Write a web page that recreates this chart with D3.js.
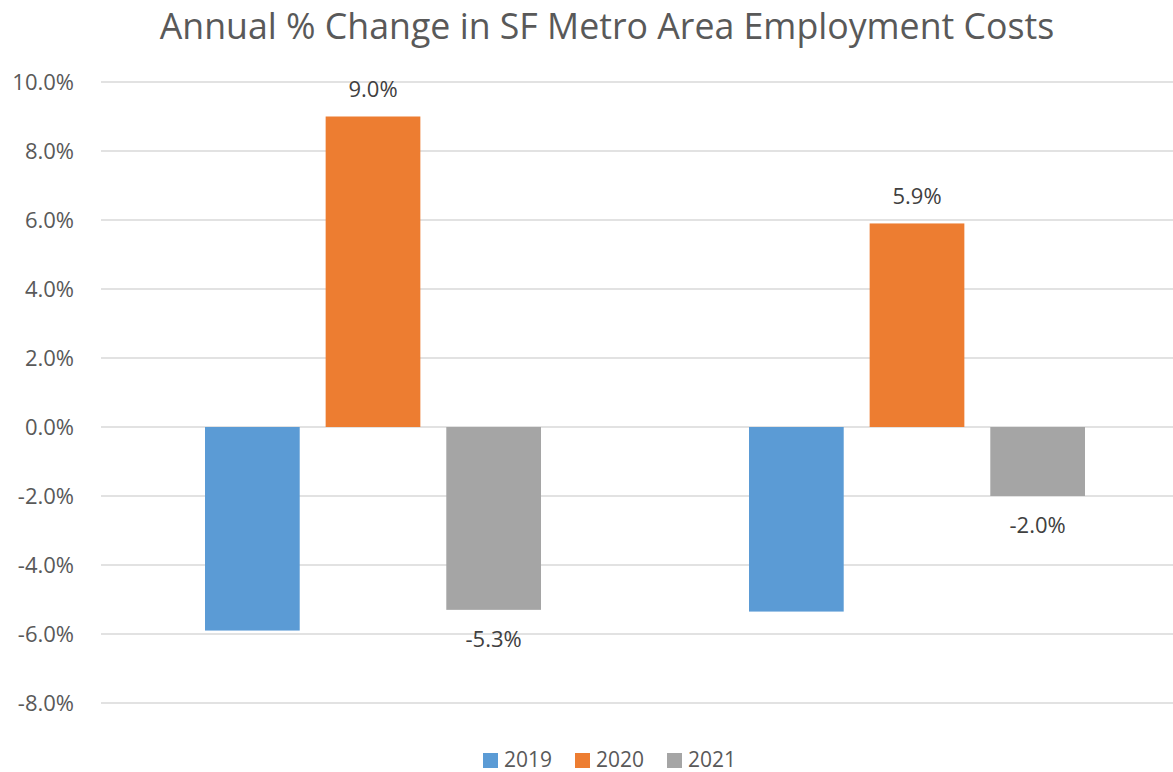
<!DOCTYPE html>
<html><head><meta charset="utf-8">
<script src="https://cdn.jsdelivr.net/npm/d3@7"></script>
<style>body{margin:0;background:#fff;}svg{display:block;font-family:"Open Sans","Noto Sans",sans-serif;}</style>
</head><body>
<svg id="c" width="1173" height="772"></svg>
<script>
const title = "Annual % Change in SF Metro Area Employment Costs";
const categories = ["Group A", "Group B"];
const seriesNames = ["2019", "2020", "2021"];
const values2019 = [-5.9, -5.35];
const values2020 = [9.0, 5.9];
const values2021 = [-5.3, -2.0];
const showLabels = [false, true, true];
const yTicks = [-8, -6, -4, -2, 0, 2, 4, 6, 8, 10];
const colors = ["#5b9bd5", "#ed7d31", "#a5a5a5"];

const series = [values2019, values2020, values2021];
const fmt = d => d3.format(".1f")(d).replace("\u2212", "-") + "%";
const svg = d3.select("#c");
const W = 1173;
const y = d3.scaleLinear().domain([-8, 10]).range([703, 82]);
const x0 = d3.scaleBand().domain(categories).range([101, 1189]).paddingInner(0).paddingOuter(0);
const x1 = d3.scaleBand().domain(seriesNames).range([-168, 168]).paddingInner(0.215).paddingOuter(0);

svg.append("text").attr("x", 607).attr("y", 39).attr("text-anchor", "middle")
  .attr("font-size", 35.7).attr("fill", "#595959").text(title);

const gy = svg.append("g");
gy.selectAll("line").data(yTicks).join("line")
  .attr("x1", 101).attr("x2", W).attr("y1", d => y(d)).attr("y2", d => y(d))
  .attr("stroke", "#d9d9d9").attr("stroke-width", 1.5);
gy.selectAll("text").data(yTicks).join("text")
  .attr("x", 74).attr("y", d => y(d)).attr("dy", "0.36em").attr("text-anchor", "end")
  .attr("font-size", 22).attr("fill", "#595959").text(fmt);

seriesNames.forEach((s, si) => {
  const g = svg.append("g");
  g.selectAll("rect").data(series[si]).join("rect")
    .attr("x", (d, i) => x0(categories[i]) + x0.bandwidth() / 2 + x1(s))
    .attr("width", x1.bandwidth())
    .attr("y", d => y(Math.max(0, d)))
    .attr("height", d => Math.abs(y(d) - y(0)))
    .attr("fill", colors[si]);
  if (showLabels[si]) {
    g.selectAll("text").data(series[si]).join("text")
      .attr("x", (d, i) => x0(categories[i]) + x0.bandwidth() / 2 + x1(s) + x1.bandwidth() / 2)
      .attr("y", d => d >= 0 ? y(d) - 27 : y(d) + 29)
      .attr("dy", "0.36em").attr("text-anchor", "middle")
      .attr("font-size", 22).attr("fill", "#404040")
      .text(fmt);
  }
});

const legX = [483, 575, 667];
const leg = svg.append("g");
seriesNames.forEach((s, i) => {
  leg.append("rect").attr("x", legX[i]).attr("y", 753).attr("width", 15).attr("height", 15).attr("fill", colors[i]);
  leg.append("text").attr("x", legX[i] + 21).attr("y", 767)
    .attr("font-size", 21).attr("fill", "#595959").text(s);
});
</script>
</body></html>
